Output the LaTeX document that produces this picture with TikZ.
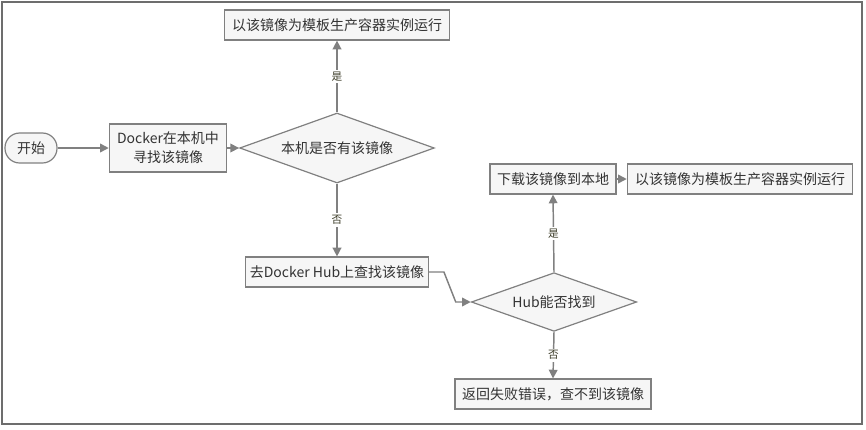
\documentclass[tikz,border=0pt]{standalone}
\usepackage{fontspec}
\newfontfamily\cjk{Noto Sans CJK SC}
\usetikzlibrary{shapes.geometric}
\usetikzlibrary{arrows.meta}
\usepackage{xcolor}

\definecolor{lineGray}{RGB}{128,128,128}
\definecolor{boxFill}{RGB}{246,246,246}
\definecolor{txtGray}{RGB}{51,51,51}
\definecolor{lblCol}{RGB}{60,60,40}

\tikzset{
  stepbox/.style={draw=lineGray, fill=boxFill, line width=0.9pt, text=txtGray, inner sep=0pt, align=center},
  startbox/.style={stepbox, rounded corners=11pt, minimum width=39pt, minimum height=22.5pt},
  askbox/.style={draw=lineGray, fill=boxFill, line width=0.9pt, text=txtGray, diamond, aspect=2.8, inner sep=0pt},
  flow/.style={draw=lineGray, line width=1.1pt, -{Triangle[length=6.5pt,width=6.5pt]}},
  yesno/.style={fill=white, text=lblCol, font=\cjk\fontsize{8}{9}\selectfont, inner sep=1.5pt},
}

\begin{document}
\begin{tikzpicture}[x=0.75pt,y=0.75pt,yscale=-1,xscale=1, font=\cjk\fontsize{10.5}{14.25}\selectfont]
\useasboundingbox (0,0) rectangle (866,429);

%Frame
\draw [color=lineGray!85!black, line width=1.5pt] (2,2) rectangle (862,424);

% Nodes, first row
\node [startbox] (start) at (31,148) {开始};
\node [stepbox, minimum width=88pt, minimum height=36pt] (find) at (168,148) {Docker在本机中\\寻找该镜像};
\node [askbox, minimum width=146pt, minimum height=52.5pt] (local) at (337,148) {本机是否有该镜像};
\node [stepbox, minimum width=169pt, minimum height=22.5pt] (run1) at (337,25) {以该镜像为模板生产容器实例运行};

% Nodes, Docker Hub branch
\node [stepbox, minimum width=137pt, minimum height=22.5pt] (search) at (337,272) {去Docker Hub上查找该镜像};
\node [askbox, minimum width=124pt, minimum height=44pt] (hubq) at (554,302) {Hub能否找到};
\node [stepbox, minimum width=94.5pt, minimum height=22.5pt] (download) at (553,179) {下载该镜像到本地};
\node [stepbox, minimum width=169pt, minimum height=22.5pt] (run2) at (740,179) {以该镜像为模板生产容器实例运行};
\node [stepbox, minimum width=147pt, minimum height=22.5pt] (fail) at (553,394) {返回失败错误，查不到该镜像};

% Connectors
\draw [flow] (start) -- (find);
\draw [flow] (find) -- (local.west);
\draw [flow] (local.north) -- node [yesno] {是} (run1.south);
\draw [flow] (local.south) -- node [yesno] {否} (search.north);
\draw [flow] (search.east) -- ++(15,0) -- ([xshift=-11.25pt]hubq.west) -- (hubq.west);
\draw [flow] (hubq.north) -- node [yesno] {是} (download.south);
\draw [flow] (hubq.south) -- node [yesno] {否} (fail.north);
\draw [flow] (download) -- (run2);

\end{tikzpicture}
\end{document}
